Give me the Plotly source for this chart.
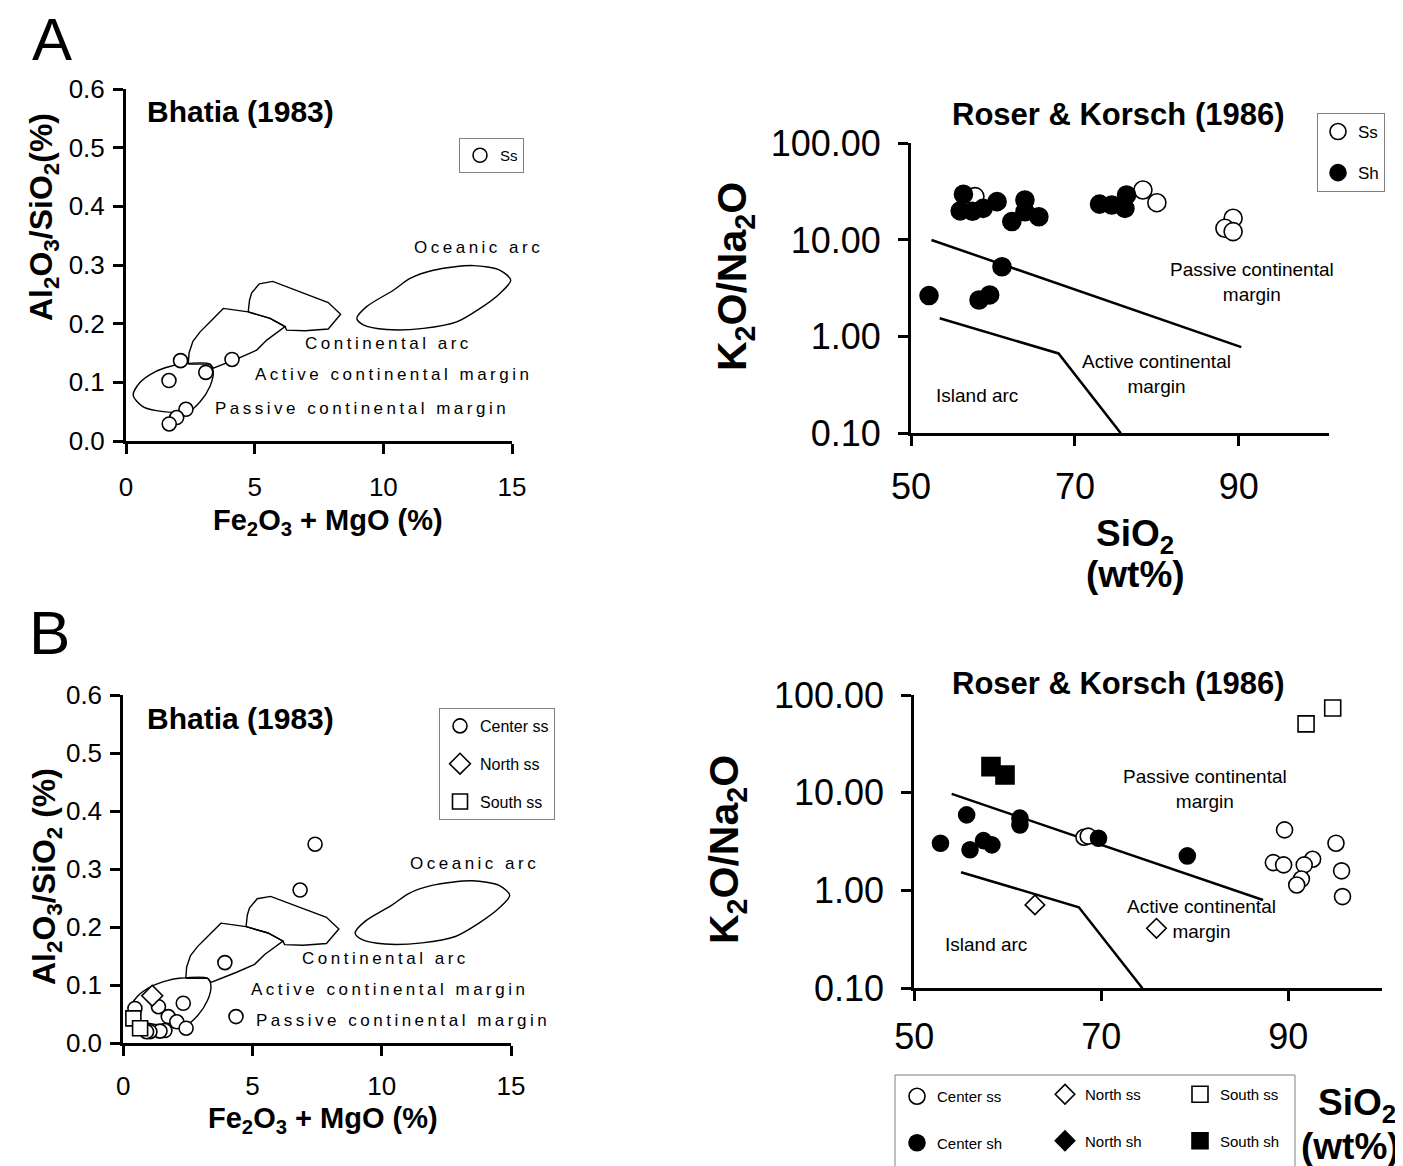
import plotly.graph_objects as go

# page is drawn with an 8px body margin: size the figure to the visible window
OFF = 8
W, H = 1403 - OFF, 1166 - OFF
def px(x): return (x - OFF) / W
def py(y): return 1 - (y - OFF) / H

FONT = "Liberation Sans, Arial, sans-serif"

# ---------------- Panel A : Bhatia (1983) ----------------
bhA_ss_x = [1.67, 2.12, 3.10, 4.12, 2.33, 1.97, 1.68]
bhA_ss_y = [0.103, 0.137, 0.117, 0.139, 0.054, 0.040, 0.029]

# tectonic-setting fields (Bhatia 1983), panel A
fA_pcm_x = [0.28, 0.55, 1.13, 1.70, 2.16, 3.26, 3.39, 3.26, 2.88, 2.42, 1.45, 0.67, 0.28]
fA_pcm_y = [0.078, 0.100, 0.118, 0.127, 0.131, 0.131, 0.118, 0.093, 0.067, 0.050, 0.050, 0.058, 0.078]
fA_acm_x = [2.42, 2.45, 2.60, 2.88, 3.33, 3.78, 4.75, 5.60, 6.18, 5.47, 5.08, 4.36, 3.39, 3.26, 2.42]
fA_acm_y = [0.131, 0.150, 0.170, 0.186, 0.206, 0.226, 0.220, 0.209, 0.195, 0.172, 0.155, 0.141, 0.124, 0.131, 0.131]
fA_ca_x = [4.75, 4.80, 4.88, 5.18, 5.70, 7.86, 8.34, 7.86, 6.96, 6.24, 6.18, 5.60, 4.75]
fA_ca_y = [0.220, 0.240, 0.252, 0.268, 0.272, 0.236, 0.216, 0.191, 0.188, 0.189, 0.195, 0.209, 0.220]
fA_oa_x = [8.97, 9.35, 10.39, 11.04, 11.94, 13.50, 14.54, 14.95, 14.54, 13.76, 12.85, 11.56, 10.13, 9.22, 8.97]
fA_oa_y = [0.209, 0.229, 0.257, 0.277, 0.291, 0.299, 0.291, 0.274, 0.252, 0.226, 0.203, 0.192, 0.190, 0.198, 0.209]

# ---------------- Panel A : Roser & Korsch (1986) ----------------
rkA_ss_x = [57.8, 78.3, 80.0, 89.3, 88.3, 89.3]
rkA_ss_y = [28.1, 32.9, 24.3, 16.8, 13.2, 12.2]
rkA_sh_x = [52.2, 56.4, 56.0, 57.5, 58.8, 60.5, 62.3, 63.9, 63.9, 65.6, 61.1, 58.3, 59.6, 73.0, 74.5, 76.1, 76.3]
rkA_sh_y = [2.66, 29.7, 20.0, 19.8, 21.2, 24.9, 15.5, 25.9, 19.6, 17.4, 5.28, 2.39, 2.70, 23.5, 23.0, 21.2, 29.2]
rkA_upper_x = [52.5, 90.3]
rkA_upper_y = [10.0, 0.78]
rkA_lower_x = [53.5, 68.0, 75.6]
rkA_lower_y = [1.55, 0.67, 0.10]

# ---------------- Panel B : Bhatia (1983) ----------------
bhB_center_ss_x = [7.42, 6.84, 3.93, 4.36, 2.32, 1.74, 2.07, 2.43, 1.61, 1.42, 1.36, 1.03, 0.45, 0.90]
bhB_center_ss_y = [0.343, 0.264, 0.139, 0.046, 0.069, 0.046, 0.037, 0.026, 0.022, 0.021, 0.063, 0.020, 0.060, 0.020]
bhB_north_ss_x = [1.12]
bhB_north_ss_y = [0.082]
bhB_south_ss_x = [0.39, 0.65]
bhB_south_ss_y = [0.043, 0.026]

fB_pcm_x = [0.28, 0.55, 1.13, 1.70, 2.16, 3.26, 3.39, 3.26, 2.88, 2.42, 1.45, 0.67, 0.28]
fB_pcm_y = [0.059, 0.081, 0.099, 0.108, 0.112, 0.112, 0.099, 0.074, 0.048, 0.031, 0.031, 0.039, 0.059]
fB_acm_x = [2.42, 2.45, 2.60, 2.88, 3.33, 3.78, 4.75, 5.60, 6.18, 5.47, 5.08, 4.36, 3.39, 3.26, 2.42]
fB_acm_y = [0.112, 0.131, 0.151, 0.167, 0.187, 0.207, 0.201, 0.190, 0.176, 0.153, 0.136, 0.122, 0.105, 0.112, 0.112]
fB_ca_x = [4.75, 4.80, 4.88, 5.18, 5.70, 7.86, 8.34, 7.86, 6.96, 6.24, 6.18, 5.60, 4.75]
fB_ca_y = [0.201, 0.221, 0.233, 0.249, 0.253, 0.217, 0.197, 0.172, 0.169, 0.170, 0.176, 0.190, 0.201]
fB_oa_x = [8.97, 9.35, 10.39, 11.04, 11.94, 13.50, 14.54, 14.95, 14.54, 13.76, 12.85, 11.56, 10.13, 9.22, 8.97]
fB_oa_y = [0.190, 0.210, 0.238, 0.258, 0.272, 0.280, 0.272, 0.255, 0.233, 0.207, 0.184, 0.173, 0.171, 0.179, 0.190]

# ---------------- Panel B : Roser & Korsch (1986) ----------------
rkB_center_ss_x = [68.15, 68.6, 89.6, 88.4, 89.5, 92.6, 91.7, 91.4, 90.9, 95.1, 95.7, 95.8]
rkB_center_ss_y = [3.51, 3.60, 4.17, 1.93, 1.83, 2.09, 1.83, 1.31, 1.14, 3.05, 1.59, 0.867]
rkB_north_ss_x = [62.9, 75.9]
rkB_north_ss_y = [0.713, 0.411]
rkB_south_ss_x = [91.9, 94.75]
rkB_south_ss_y = [50.7, 73.5]
rkB_center_sh_x = [52.8, 55.6, 55.96, 57.4, 58.3, 61.3, 61.3, 69.7, 79.2]
rkB_center_sh_y = [3.05, 5.94, 2.61, 3.24, 2.93, 5.50, 4.69, 3.43, 2.26]
rkB_north_sh_x = []
rkB_north_sh_y = []
rkB_south_sh_x = [58.2, 59.7]
rkB_south_sh_y = [18.5, 15.2]
rkB_upper_x = [54.0, 87.3]
rkB_upper_y = [9.75, 0.80]
rkB_lower_x = [55.0, 67.6, 74.4]
rkB_lower_y = [1.54, 0.674, 0.10]

fig = go.Figure()

def field(x, y, xa, ya, spline=False):
    fig.add_trace(go.Scatter(x=x, y=y, xaxis=xa, yaxis=ya, mode="lines",
                             line=dict(color="black", width=1.4,
                                       shape="spline" if spline else "linear",
                                       smoothing=0.8),
                             showlegend=False, hoverinfo="skip"))

def bound(x, y, xa, ya):
    fig.add_trace(go.Scatter(x=x, y=y, xaxis=xa, yaxis=ya, mode="lines",
                             line=dict(color="black", width=2.5),
                             showlegend=False, hoverinfo="skip"))

def pts(x, y, xa, ya, name, symbol, filled, size, legend, group):
    fig.add_trace(go.Scatter(
        x=x if len(x) else [None], y=y if len(y) else [None],
        xaxis=xa, yaxis=ya, mode="markers", name=name,
        legend=legend, legendgroup=group,
        marker=dict(symbol=symbol, size=size,
                    color="black" if filled else "white",
                    line=dict(color="black", width=1.6)),
        cliponaxis=False))

# Panel A left
for fx, fy, sp in [(fA_pcm_x, fA_pcm_y, True), (fA_acm_x, fA_acm_y, False),
                   (fA_ca_x, fA_ca_y, False), (fA_oa_x, fA_oa_y, True)]:
    field(fx, fy, "x", "y", sp)
pts(bhA_ss_x, bhA_ss_y, "x", "y", "Ss", "circle", False, 14, "legend", "a1")

# Panel A right
bound(rkA_upper_x, rkA_upper_y, "x2", "y2")
bound(rkA_lower_x, rkA_lower_y, "x2", "y2")
pts(rkA_ss_x, rkA_ss_y, "x2", "y2", "Ss", "circle", False, 18, "legend2", "b1")
pts(rkA_sh_x, rkA_sh_y, "x2", "y2", "Sh", "circle", True, 18, "legend2", "b2")

# Panel B left
for fx, fy, sp in [(fB_pcm_x, fB_pcm_y, True), (fB_acm_x, fB_acm_y, False),
                   (fB_ca_x, fB_ca_y, False), (fB_oa_x, fB_oa_y, True)]:
    field(fx, fy, "x3", "y3", sp)
pts(bhB_center_ss_x, bhB_center_ss_y, "x3", "y3", "Center ss", "circle", False, 14, "legend3", "c1")
pts(bhB_north_ss_x, bhB_north_ss_y, "x3", "y3", "North ss", "diamond", False, 16, "legend3", "c2")
pts(bhB_south_ss_x, bhB_south_ss_y, "x3", "y3", "South ss", "square", False, 15, "legend3", "c3")

# Panel B right
bound(rkB_upper_x, rkB_upper_y, "x4", "y4")
bound(rkB_lower_x, rkB_lower_y, "x4", "y4")
pts(rkB_center_ss_x, rkB_center_ss_y, "x4", "y4", "Center ss", "circle", False, 16, "legend4", "d1")
pts(rkB_north_ss_x, rkB_north_ss_y, "x4", "y4", "North ss", "diamond", False, 15, "legend5", "e1")
pts(rkB_south_ss_x, rkB_south_ss_y, "x4", "y4", "South ss", "square", False, 16, "legend6", "f1")
pts(rkB_center_sh_x, rkB_center_sh_y, "x4", "y4", "Center sh", "circle", True, 16, "legend4", "d2")
pts(rkB_north_sh_x, rkB_north_sh_y, "x4", "y4", "North sh", "diamond", True, 15, "legend5", "e2")
pts(rkB_south_sh_x, rkB_south_sh_y, "x4", "y4", "South sh", "square", True, 18, "legend6", "f2")

ax = dict(showline=True, linecolor="black", linewidth=3, ticks="outside",
          ticklen=10, tickwidth=2.5, tickcolor="black", showgrid=False,
          zeroline=False, mirror=False, automargin=False)
lfont = dict(family=FONT, size=26, color="black")
rfont = dict(family=FONT, size=36, color="black")

fig.update_layout(
    width=W, height=H, margin=dict(l=0, r=0, t=0, b=0, pad=0, autoexpand=False),
    paper_bgcolor="white", plot_bgcolor="rgba(0,0,0,0)",
    font=dict(family=FONT, color="black"),
    xaxis=dict(ax, domain=[px(126), px(512)], range=[0, 15], tickvals=[0, 5, 10, 15],
               anchor="y", tickfont=lfont, ticklabelstandoff=11),
    yaxis=dict(ax, domain=[py(441), py(89)], range=[0, 0.6], dtick=0.1, tickformat=".1f",
               anchor="x", tickfont=lfont, ticklabelstandoff=3),
    xaxis2=dict(ax, domain=[px(911), px(1329)], range=[50, 101], tickvals=[50, 70, 90],
                anchor="y2", tickfont=rfont, ticklabelstandoff=9),
    yaxis2=dict(ax, type="log", domain=[py(433.3), py(143.3)], range=[-1, 2],
                tickvals=[0.1, 1, 10, 100], ticktext=["0.10", "1.00", "10.00", "100.00"],
                anchor="x2", tickfont=rfont, ticklabelstandoff=10),
    xaxis3=dict(ax, domain=[px(123.3), px(511)], range=[0, 15], tickvals=[0, 5, 10, 15],
                anchor="y3", tickfont=lfont, ticklabelstandoff=7),
    yaxis3=dict(ax, domain=[py(1043.3), py(695)], range=[0, 0.6], dtick=0.1, tickformat=".1f",
                anchor="x3", tickfont=lfont, ticklabelstandoff=3),
    xaxis4=dict(ax, domain=[px(914.3), px(1381.8)], range=[50, 100], tickvals=[50, 70, 90],
                anchor="y4", tickfont=rfont, ticklabelstandoff=4),
    yaxis4=dict(ax, type="log", domain=[py(988.3), py(695)], range=[-1, 2],
                tickvals=[0.1, 1, 10, 100], ticktext=["0.10", "1.00", "10.00", "100.00"],
                anchor="x4", tickfont=rfont, ticklabelstandoff=10),
)

leg_common = dict(xanchor="left", yanchor="top", bgcolor="white",
                  font=dict(family=FONT, size=15, color="black"), itemwidth=30)
fig.update_layout(
    legend=dict(leg_common, x=px(459), y=py(138), bordercolor="#808080", borderwidth=1),
    legend2=dict(leg_common, x=px(1317), y=py(113), bordercolor="#808080", borderwidth=1,
                 tracegroupgap=16, font=dict(family=FONT, size=17, color="black")),
    legend3=dict(leg_common, x=px(439), y=py(708), bordercolor="#808080", borderwidth=1,
                 tracegroupgap=14, font=dict(family=FONT, size=16, color="black")),
    legend4=dict(leg_common, x=px(897), y=py(1080), borderwidth=0, tracegroupgap=24,
                 bgcolor="rgba(0,0,0,0)"),
    legend5=dict(leg_common, x=px(1045), y=py(1078), borderwidth=0, tracegroupgap=24,
                 bgcolor="rgba(0,0,0,0)"),
    legend6=dict(leg_common, x=px(1180), y=py(1078), borderwidth=0, tracegroupgap=24,
                 bgcolor="rgba(0,0,0,0)"),
)

fig.add_shape(type="rect", xref="paper", yref="paper", x0=px(895), x1=px(1295),
              y0=py(1172), y1=py(1075), line=dict(color="#808080", width=1),
              fillcolor="rgba(0,0,0,0)", layer="below")

ann = []
def t(text, x, y, size, xref="paper", yref="paper", xanchor="center", angle=0, bold=False):
    ann.append(dict(text=("<b>%s</b>" % text) if bold else text, x=x, y=y, xref=xref, yref=yref,
                    xanchor=xanchor, yanchor="middle", showarrow=False, textangle=angle,
                    font=dict(family=FONT, size=size, color="black")))

def ls(text):
    return '<span style="letter-spacing:3.5px">%s</span>' % text

# Panel letters
t("A", px(52), py(40), 60)
t("B", px(49), py(632), 62)

# Panel A left
t("Bhatia (1983)", px(145), py(112), 30, xanchor="left", bold=True)
t("Al<sub>2</sub>O<sub>3</sub>/SiO<sub>2</sub>(%)", px(43), py(217), 32, angle=-90, bold=True)
t("Fe<sub>2</sub>O<sub>3</sub> + MgO (%)", px(328), py(522), 29, bold=True)
t(ls("Oceanic arc"), 13.68, 0.329, 17, "x", "y")
t(ls("Continental arc"), 10.22, 0.167, 17, "x", "y")
t(ls("Active continental margin"), 10.38, 0.114, 17, "x", "y")
t(ls("Passive continental margin"), 9.17, 0.056, 17, "x", "y")

# Panel A right
t("Roser & Korsch (1986)", px(1118), py(114), 31, bold=True)
t("K<sub>2</sub>O/Na<sub>2</sub>O", px(735), py(277), 41, angle=-90, bold=True)
t("SiO<sub>2</sub>", px(1135), py(536), 37, bold=True)
t("(wt%)", px(1135), py(574), 37, bold=True)
t("Passive continental<br>margin", 91.6, 0.565, 19, "x2", "y2")
t("Active continental<br>margin", 80.0, -0.387, 19, "x2", "y2")
t("Island arc", 58.0, -0.604, 19, "x2", "y2")

# Panel B left
t("Bhatia (1983)", px(145), py(718), 30, xanchor="left", bold=True)
t("Al<sub>2</sub>O<sub>3</sub>/SiO<sub>2</sub> (%)", px(46), py(877), 32, angle=-90, bold=True)
t("Fe<sub>2</sub>O<sub>3</sub> + MgO (%)", px(323), py(1120), 29, bold=True)
t(ls("Oceanic arc"), 13.6, 0.310, 17, "x3", "y3")
t(ls("Continental arc"), 10.16, 0.146, 17, "x3", "y3")
t(ls("Active continental margin"), 10.31, 0.093, 17, "x3", "y3")
t(ls("Passive continental margin"), 10.81, 0.040, 17, "x3", "y3")

# Panel B right
t("Roser & Korsch (1986)", px(1118), py(683), 31, bold=True)
t("K<sub>2</sub>O/Na<sub>2</sub>O", px(727), py(850), 41, angle=-90, bold=True)
t("SiO<sub>2</sub>", px(1357), py(1105), 37, bold=True)
t("(wt%)", px(1350), py(1146), 37, bold=True)
t("Passive continental<br>margin", 81.1, 1.040, 19, "x4", "y4")
t("Active continental<br>margin", 80.7, -0.291, 19, "x4", "y4")
t("Island arc", 57.7, -0.557, 19, "x4", "y4")

fig.update_layout(annotations=ann)
fig.write_html("out.html")
